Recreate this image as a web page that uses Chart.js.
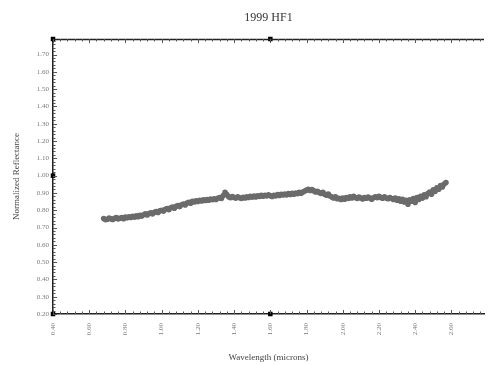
<!DOCTYPE html>
<html>
<head>
<meta charset="utf-8">
<script src="https://cdn.jsdelivr.net/npm/chart.js@4.4.1/dist/chart.umd.min.js"></script>
<style>
  html, body { margin: 0; padding: 0; background: #ffffff; }
  #wrap { width: 488px; height: 365px; position: relative; }
</style>
</head>
<body>
<div id="wrap"><canvas id="c" width="488" height="365"></canvas></div>
<script>
// ---- data ----
const chartTitle = "1999 HF1";
const xTitle = "Wavelength (microns)";
const yTitle = "Normalized Reflectance";

const wavelength = [
  0.68,0.69,0.70,0.71,0.72,0.73,0.74,0.75,0.76,0.77,
  0.78,0.79,0.80,0.81,0.82,0.83,0.84,0.85,0.86,0.87,
  0.88,0.89,0.90,0.91,0.92,0.93,0.94,0.95,0.96,0.97,
  0.98,0.99,1.00,1.01,1.02,1.03,1.04,1.05,1.06,1.07,
  1.08,1.09,1.10,1.11,1.12,1.13,1.14,1.15,1.16,1.17,
  1.18,1.19,1.20,1.21,1.22,1.23,1.24,1.25,1.26,1.27,
  1.28,1.29,1.30,1.31,1.32,1.33,1.34,1.35,1.36,1.37,
  1.38,1.39,1.40,1.41,1.42,1.43,1.44,1.45,1.46,1.47,
  1.48,1.49,1.50,1.51,1.52,1.53,1.54,1.55,1.56,1.57,
  1.58,1.59,1.60,1.61,1.62,1.63,1.64,1.65,1.66,1.67,
  1.68,1.69,1.70,1.71,1.72,1.73,1.74,1.75,1.76,1.77,
  1.78,1.79,1.80,1.81,1.82,1.83,1.84,1.85,1.86,1.87,
  1.88,1.89,1.90,1.91,1.92,1.93,1.94,1.95,1.96,1.97,
  1.98,1.99,2.00,2.01,2.02,2.03,2.04,2.05,2.06,2.07,
  2.08,2.09,2.10,2.11,2.12,2.13,2.14,2.15,2.16,2.17,
  2.18,2.19,2.20,2.21,2.22,2.23,2.24,2.25,2.26,2.27,
  2.28,2.29,2.30,2.31,2.32,2.33,2.34,2.35,2.36,2.37,
  2.38,2.39,2.40,2.41,2.42,2.43,2.44,2.45,2.46,2.47,
  2.48,2.49,2.50,2.51,2.52,2.53,2.54,2.55,2.56,2.57
];
const reflectance = [
  0.752,0.745,0.748,0.755,0.750,0.746,0.753,0.758,0.749,0.754,
  0.757,0.751,0.760,0.756,0.762,0.758,0.765,0.760,0.768,0.763,
  0.770,0.766,0.774,0.779,0.772,0.781,0.785,0.779,0.788,0.792,
  0.787,0.796,0.800,0.795,0.805,0.810,0.803,0.814,0.818,0.812,
  0.823,0.827,0.821,0.832,0.836,0.830,0.842,0.846,0.840,0.852,
  0.848,0.855,0.851,0.858,0.853,0.860,0.856,0.862,0.858,0.864,
  0.861,0.866,0.862,0.869,0.873,0.868,0.885,0.903,0.891,0.878,
  0.872,0.879,0.874,0.870,0.877,0.872,0.868,0.875,0.871,0.878,
  0.874,0.880,0.876,0.882,0.877,0.884,0.879,0.886,0.881,0.887,
  0.883,0.889,0.884,0.880,0.887,0.883,0.890,0.885,0.892,0.888,
  0.894,0.889,0.896,0.891,0.898,0.893,0.900,0.896,0.903,0.898,
  0.905,0.911,0.916,0.921,0.914,0.919,0.912,0.906,0.910,0.902,
  0.897,0.903,0.893,0.887,0.894,0.882,0.876,0.871,0.878,0.866,
  0.869,0.862,0.870,0.864,0.873,0.868,0.877,0.871,0.880,0.874,
  0.868,0.876,0.871,0.865,0.873,0.869,0.876,0.870,0.864,0.872,
  0.878,0.873,0.880,0.874,0.869,0.877,0.871,0.866,0.874,0.868,
  0.862,0.871,0.858,0.866,0.852,0.863,0.848,0.857,0.835,0.861,
  0.852,0.868,0.845,0.873,0.862,0.881,0.870,0.889,0.878,0.896,
  0.905,0.893,0.918,0.908,0.930,0.921,0.942,0.935,0.952,0.960
];

// black square reference markers on the frame
const markerX = [0.40, 1.60, 0.40, 0.40, 1.60];
const markerY = [1.79, 1.79, 1.00, 0.20, 0.20];

// axis ranges and labelled ticks
const xMin = 0.40, xMax = 2.78;
const yMin = 0.20, yMax = 1.79;
const xTickLabels = [0.40,0.60,0.80,1.00,1.20,1.40,1.60,1.80,2.00,2.20,2.40,2.60];
const yTickLabels = [0.20,0.30,0.40,0.50,0.60,0.70,0.80,0.90,1.00,1.10,1.20,1.30,1.40,1.50,1.60,1.70];

const serif = "'Liberation Serif', 'DejaVu Serif', serif";

// inward frame ticks, positioned through the scales
const frameTicks = {
  id: 'frameTicks',
  afterDraw(chart) {
    const {ctx, chartArea: a, scales: {x, y}} = chart;
    ctx.save();
    ctx.strokeStyle = '#222';
    ctx.lineWidth = 1.5;
    // top frame line
    ctx.beginPath();
    ctx.moveTo(a.left, a.top + 0.5);
    ctx.lineTo(a.right, a.top + 0.5);
    ctx.stroke();
    ctx.strokeStyle = '#555';
    ctx.lineWidth = 1;
    ctx.beginPath();
    for (let i = 0; ; i++) {
      const v = xMin + i * 0.04;
      if (v > xMax + 1e-9) break;
      const px = Math.round(x.getPixelForValue(v)) + 0.5;
      const major = Math.abs((v * 10) - Math.round(v * 10)) < 1e-6 && Math.round(v*10) % 2 === 0;
      const len = major ? 4 : 2.5;
      ctx.moveTo(px, a.bottom); ctx.lineTo(px, a.bottom - len);
      ctx.moveTo(px, a.top); ctx.lineTo(px, a.top + len);
    }
    for (let i = 0; ; i++) {
      const v = yMin + i * 0.02;
      if (v > yMax + 1e-9) break;
      const py = Math.round(y.getPixelForValue(v)) + 0.5;
      const major = Math.abs((v * 10) - Math.round(v * 10)) < 1e-6;
      const len = major ? 4 : 2.5;
      ctx.moveTo(a.left, py); ctx.lineTo(a.left + len, py);
    }
    ctx.stroke();
    ctx.restore();
  }
};

const spectrum = wavelength.map((w, i) => ({x: w, y: reflectance[i]}));
const markers = markerX.map((w, i) => ({x: w, y: markerY[i]}));

new Chart(document.getElementById('c'), {
  type: 'scatter',
  data: {
    datasets: [
      {
        data: spectrum,
        pointRadius: 2.8,
        pointBorderWidth: 0,
        pointBackgroundColor: '#6b6b6b',
        pointHoverRadius: 2.8
      },
      {
        data: markers,
        pointStyle: 'rect',
        pointRadius: 3.2,
        pointBorderWidth: 0,
        pointBackgroundColor: '#000',
        clip: false
      }
    ]
  },
  options: {
    responsive: false,
    animation: false,
    events: [],
    layout: { padding: { left: 0, right: 0, top: 0, bottom: 0 } },
    plugins: {
      legend: { display: false },
      tooltip: { enabled: false },
      title: {
        display: true,
        text: chartTitle,
        fullSize: false,
        color: '#333',
        font: { family: serif, size: 12, weight: 'normal', lineHeight: 1.1 },
        padding: { top: 11.5, bottom: 14.3 }
      }
    },
    scales: {
      x: {
        type: 'linear',
        min: xMin, max: xMax,
        afterBuildTicks: s => { s.ticks = xTickLabels.map(v => ({value: v})); },
        afterFit: s => { s.height = 51; },
        grid: { display: false, drawTicks: false },
        border: { display: true, color: '#222', width: 1.5 },
        ticks: {
          autoSkip: false,
          minRotation: 90, maxRotation: 90,
          padding: 9,
          color: '#7a7a7a',
          font: { family: serif, size: 7 },
          callback: v => Number(v).toFixed(2)
        },
        title: {
          display: true,
          text: xTitle,
          color: '#444',
          font: { family: serif, size: 9, lineHeight: 1.2 },
          padding: { top: 0, bottom: 1.6 }
        }
      },
      y: {
        type: 'linear',
        min: yMin, max: yMax,
        afterBuildTicks: s => { s.ticks = yTickLabels.map(v => ({value: v})); },
        afterFit: s => { s.width = 53; },
        grid: { display: false, drawTicks: false },
        border: { display: true, color: '#222', width: 1.5 },
        ticks: {
          autoSkip: false,
          padding: 4,
          color: '#7a7a7a',
          font: { family: serif, size: 7 },
          callback: v => Number(v).toFixed(2)
        },
        title: {
          display: true,
          text: yTitle,
          color: '#444',
          font: { family: serif, size: 9, lineHeight: 1.2 },
          padding: { top: 11.6, bottom: 0 }
        }
      }
    }
  },
  plugins: [frameTicks]
});
</script>
</body>
</html>
